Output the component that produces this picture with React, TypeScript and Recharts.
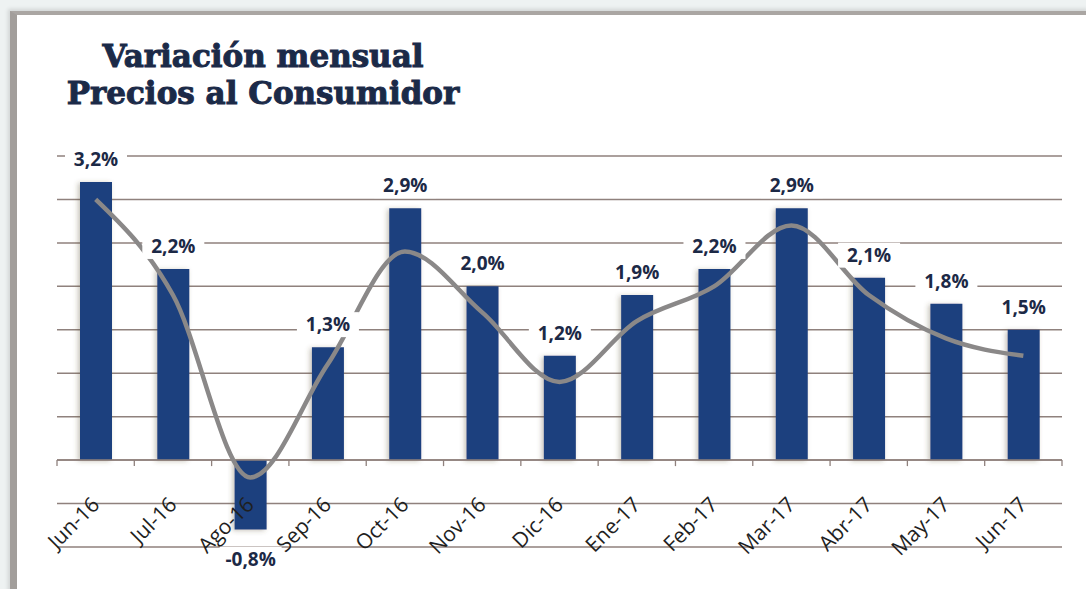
import {
  ComposedChart,
  Bar,
  Line,
  XAxis,
  YAxis,
  CartesianGrid,
  ReferenceLine,
  LabelList,
} from 'recharts'

const months = [
  'Jun-16', 'Jul-16', 'Ago-16', 'Sep-16', 'Oct-16', 'Nov-16', 'Dic-16',
  'Ene-17', 'Feb-17', 'Mar-17', 'Abr-17', 'May-17', 'Jun-17',
]
const monthly = [3.2, 2.2, -0.8, 1.3, 2.9, 2.0, 1.2, 1.9, 2.2, 2.9, 2.1, 1.8, 1.5]
const trend = [3.0, 1.9, -0.2, 1.1, 2.4, 1.7, 0.9, 1.6, 2.0, 2.7, 1.9, 1.4, 1.2]
const yTicks = [-1, -0.5, 0, 0.5, 1, 1.5, 2, 2.5, 3, 3.5]

const data = months.map((m, i) => ({ name: m, value: monthly[i], trend: trend[i] }))

const GRID = '#8f817d'
const BAR = '#1e3f7e'
const INK = '#1c2946'

const fmt = (v: number) => `${v.toFixed(1).replace('.', ',')}%`

const ValueLabel = (props: any) => {
  const vb = props.viewBox || props
  const x = Number(vb.x)
  const y = Number(vb.y)
  const w = Number(vb.width)
  const h = Number(vb.height)
  const v = Number(props.value)
  const top = Math.min(y, y + h)
  const bottom = Math.max(y, y + h)
  const cx = x + w / 2
  const base = v >= 0 ? top - 16 : bottom + 36
  return (
    <g>
      <rect x={cx - 31} y={base - 19} width={62} height={25} fill="#fff" />
      <text
        x={cx}
        y={base}
        textAnchor="middle"
        fontFamily="'Open Sans', sans-serif"
        fontWeight={700}
        fontSize={19}
        fill={INK}
      >
        {fmt(v)}
      </text>
    </g>
  )
}

const MonthTick = (props: any) => {
  const { x, y, payload } = props
  return (
    <g transform={`translate(${x + 5},${y - 41})`}>
      <text
        textAnchor="end"
        transform="rotate(-45)"
        fontFamily="'Open Sans', sans-serif"
        fontSize={21}
        fill="#1f1f1f"
      >
        {payload.value}
      </text>
    </g>
  )
}

// zero line with little tick marks at the category boundaries
const ZeroAxis = (props: any) => {
  const { x1, y1, x2, y2 } = props
  const step = (x2 - x1) / months.length
  return (
    <g>
      <line x1={x1} y1={y1} x2={x2} y2={y2} stroke={GRID} strokeWidth={1.5} />
      {Array.from({ length: months.length + 1 }, (_, i) => (
        <line
          key={i}
          x1={x1 + i * step}
          x2={x1 + i * step}
          y1={y1}
          y2={y1 + 6}
          stroke={GRID}
          strokeWidth={1.3}
        />
      ))}
    </g>
  )
}

export default function App() {
  return (
    <div
      style={{
        position: 'fixed',
        left: 0,
        top: 0,
        width: 1086,
        height: 589,
        background: '#eef2f2',
        overflow: 'hidden',
      }}
    >
      <div
        style={{
          position: 'absolute',
          left: 10,
          top: 11,
          width: 1072,
          height: 600,
          background: '#fff',
          borderTop: '4px solid #aaa6a3',
          borderLeft: '7px solid #a29e9b',
          borderRight: '1px solid #dcdcdc',
          boxShadow: '-2px -2px 4px rgba(0,0,0,0.12)',
        }}
      />
      <div
        style={{
          position: 'absolute',
          left: 0,
          top: 38,
          width: 526,
          textAlign: 'center',
          fontFamily: "'DejaVu Serif', serif",
          fontWeight: 700,
          fontSize: 31,
          lineHeight: '37px',
          color: '#1b2a48',
          WebkitTextStroke: '1px #1b2a48',
        }}
      >
        Variación mensual
        <br />
        Precios al Consumidor
      </div>
      <div style={{ position: 'absolute', left: 0, top: 0 }}>
        <ComposedChart
          width={1086}
          height={589}
          data={data}
          margin={{ top: 156, right: 24, bottom: 0, left: 57 }}
        >
          <defs>
            <filter id="barShadow" x="-30%" y="-10%" width="160%" height="120%">
              <feDropShadow dx={-2} dy={1} stdDeviation={2.5} floodColor="#5a5030" floodOpacity={0.35} />
            </filter>
          </defs>
          <CartesianGrid vertical={false} stroke={GRID} strokeWidth={1.5} />
          <YAxis hide domain={[-1, 3.5]} ticks={yTicks} />
          <XAxis
            dataKey="name"
            height={42}
            axisLine={false}
            tickLine={false}
            tickSize={0}
            tickMargin={0}
            interval={0}
            tick={<MonthTick />}
          />
          <ReferenceLine y={0} shape={<ZeroAxis />} />
          <Bar
            dataKey="value"
            fill={BAR}
            barSize={32}
            filter="url(#barShadow)"
            isAnimationActive={false}
          >
            <LabelList dataKey="value" content={<ValueLabel />} />
          </Bar>
          <Line
            type="monotone"
            dataKey="trend"
            stroke="#8a8888"
            strokeWidth={4.5}
            dot={false}
            isAnimationActive={false}
          />
        </ComposedChart>
      </div>
    </div>
  )
}
